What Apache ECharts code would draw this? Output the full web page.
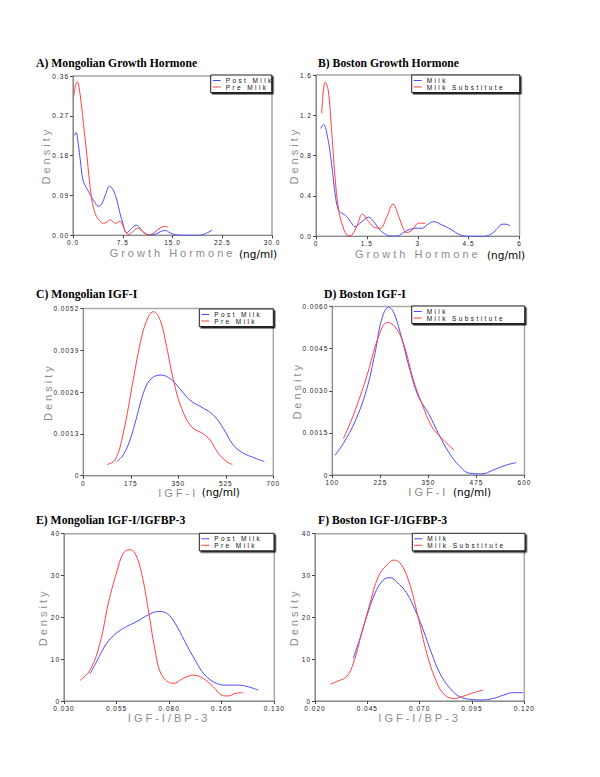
<!DOCTYPE html>
<html><head><meta charset="utf-8">
<script src="https://cdn.jsdelivr.net/npm/echarts@6/dist/echarts.min.js"></script>
<style>html,body{margin:0;padding:0;background:#fff}#c{width:600px;height:777px}</style>
</head><body><div id="c"></div>
<script>
// ---------------- DATA ----------------
const titles = ['A) Mongolian Growth Hormone','B) Boston Growth Hormone','C) Mongolian IGF-I','D) Boston IGF-I','E) Mongolian IGF-I/IGFBP-3','F) Boston IGF-I/IGFBP-3'];
const xNames = ['Growth Hormone','Growth Hormone','IGF-I','IGF-I','IGF-I/BP-3','IGF-I/BP-3'];
const units = ['(ng/ml)','(ng/ml)','(ng/ml)','(ng/ml)','',''];
const yName = 'Density';
const mongolNames = ['Post Milk','Pre Milk'];
const bostonNames = ['Milk','Milk Substitute'];

const ticksA_x = ['0.0','7.5','15.0','22.5','30.0'];
const ticksA_y = ['0.00','0.09','0.18','0.27','0.36'];
const ticksB_x = ['0','1.5','3','4.5','6'];
const ticksB_y = ['0.0','0.4','0.8','1.2','1.6'];
const ticksC_x = ['0','175','350','525','700'];
const ticksC_y = ['0','0.0013','0.0026','0.0039','0.0052'];
const ticksD_x = ['100','225','350','475','600'];
const ticksD_y = ['0','0.0015','0.0030','0.0045','0.0060'];
const ticksE_x = ['0.030','0.055','0.080','0.105','0.130'];
const ticksE_y = ['0','10','20','30','40'];
const ticksF_x = ['0.020','0.045','0.070','0.095','0.120'];
const ticksF_y = ['0','10','20','30','40'];

const ghMongolPost = [[0.2,0.226],[0.45,0.232],[0.8,0.205],[1.1,0.17],[1.5,0.125],[2.0,0.108],[2.6,0.092],[3.3,0.074],[3.8,0.066],[4.3,0.07],[4.9,0.092],[5.5,0.111],[6.0,0.104],[6.5,0.085],[7.0,0.055],[7.5,0.028],[8.1,0.006],[8.8,0.015],[9.5,0.023],[10.0,0.018],[10.6,0.007],[11.5,0.001],[12.5,0.003],[13.3,0.009],[13.9,0.011],[14.6,0.006],[15.5,0.001],[17,0],[19,0],[20,0.004],[21.0,0.012]];
const ghMongolPre = [[0.1,0.313],[0.4,0.34],[0.65,0.347],[0.9,0.335],[1.3,0.29],[1.7,0.235],[2.1,0.18],[2.5,0.12],[2.9,0.075],[3.4,0.047],[4.0,0.033],[4.6,0.027],[5.1,0.03],[5.6,0.035],[6.0,0.031],[6.4,0.027],[6.8,0.03],[7.1,0.032],[7.5,0.022],[8.0,0.006],[8.4,0.002],[9.0,0.008],[9.75,0.016],[10.4,0.01],[11.0,0.003],[11.5,0.001],[12.2,0.006],[12.8,0.013],[13.5,0.019],[13.9,0.02],[14.3,0.018]];
const ghBostonMilk = [[0.14,1.07],[0.22,1.11],[0.32,1.02],[0.46,0.72],[0.56,0.43],[0.66,0.26],[0.76,0.23],[0.91,0.195],[1.05,0.13],[1.15,0.095],[1.35,0.145],[1.55,0.19],[1.7,0.145],[1.89,0.062],[2.05,0.02],[2.19,0.003],[2.39,0.003],[2.55,0.03],[2.68,0.056],[2.93,0.08],[3.13,0.08],[3.3,0.12],[3.47,0.145],[3.67,0.12],[3.96,0.072],[4.26,0.013],[4.55,0],[4.95,0],[5.2,0.03],[5.35,0.08],[5.49,0.12],[5.6,0.12],[5.72,0.105]];
const ghBostonSub = [[0.17,1.22],[0.27,1.53],[0.36,1.45],[0.46,1.05],[0.56,0.59],[0.66,0.28],[0.76,0.13],[0.91,0.013],[1.0,0.005],[1.06,0.013],[1.2,0.095],[1.37,0.22],[1.55,0.145],[1.75,0.085],[1.89,0.08],[2.09,0.195],[2.27,0.32],[2.44,0.195],[2.58,0.07],[2.66,0.036],[2.83,0.06],[3.03,0.13],[3.23,0.13]];
const igfMongolPost = [[123,0.00044],[147,0.00064],[172,0.00111],[197,0.00183],[221,0.00256],[246,0.00298],[283,0.00313],[313,0.00306],[344,0.00282],[393,0.00235],[442,0.0021],[479,0.00189],[516,0.00147],[553,0.00095],[590,0.0007],[626,0.00057],[667,0.00044]];
const igfMongolPre = [[88,0.00035],[117,0.00049],[147,0.00132],[184,0.00298],[215,0.00432],[240,0.00495],[258,0.0051],[283,0.00484],[307,0.00401],[332,0.00298],[362,0.0021],[399,0.00152],[442,0.0013],[467,0.00111],[497,0.0007],[528,0.00044],[549,0.00035]];
const igfBostonMilk = [[107,0.0007],[129,0.00113],[159,0.0019],[189,0.00303],[211,0.00433],[228,0.00552],[246,0.00597],[259,0.00581],[276,0.0051],[302,0.00374],[324,0.00279],[350,0.0022],[376,0.00148],[402,0.00083],[432,0.0003],[458,0.00006],[489,0.00004],[519,0.00018],[554,0.00036],[578,0.00044]];
const igfBostonSub = [[129,0.0013],[155,0.00214],[189,0.00349],[220,0.00491],[243,0.00543],[263,0.00528],[285,0.00469],[311,0.00338],[333,0.00255],[359,0.00172],[389,0.00125],[417,0.00089]];
const ratioMongolPost = [[0.0424,6.5],[0.0455,9.4],[0.0503,13.8],[0.0551,16.3],[0.0598,17.8],[0.0646,19.0],[0.0701,20.6],[0.0748,21.4],[0.0788,21.0],[0.0828,18.6],[0.0875,14.2],[0.0923,9.8],[0.097,6.2],[0.1026,4.2],[0.1074,3.8],[0.1129,3.8],[0.1176,3.4],[0.1224,2.6]];
const ratioMongolPre = [[0.0376,4.9],[0.0424,7.4],[0.0471,13.8],[0.0511,23.4],[0.0551,30.9],[0.0582,35.3],[0.0611,36.2],[0.0638,35.3],[0.0669,30.5],[0.0701,21.8],[0.0733,12.2],[0.0765,6.2],[0.082,4.2],[0.0867,5.4],[0.0915,6.2],[0.0962,5.4],[0.101,3.4],[0.105,1.4],[0.1081,1.2],[0.1113,1.8],[0.1153,2.0]];
const ratioBostonMilk = [[0.0383,10.2],[0.0415,15.0],[0.0447,20.2],[0.0487,25.8],[0.0526,28.9],[0.0558,29.5],[0.059,28.5],[0.0638,25.8],[0.0678,21.8],[0.0717,17.0],[0.0757,11.4],[0.0797,6.6],[0.0845,3.0],[0.0893,1.0],[0.0941,0.4],[0.0996,0.25],[0.1052,0.6],[0.11,1.4],[0.1147,2.0],[0.1195,2.0]];
const ratioBostonSub = [[0.0272,4.0],[0.0311,4.8],[0.0351,5.8],[0.0383,9.0],[0.0423,16.2],[0.0463,23.4],[0.0502,29.7],[0.0543,32.5],[0.0579,33.7],[0.0614,32.5],[0.0654,27.7],[0.0694,19.8],[0.0734,11.4],[0.0774,5.4],[0.0813,1.8],[0.0861,0.6],[0.0901,1.0],[0.0957,2.0],[0.1004,2.6]];

// ---------------- LAYOUT / STYLE ----------------
const BLUE = '#4b4bff', RED = '#ff4040';
const layout = [
  {l:73,   t:76,    w:199,   h:159.3, tx:36,  ty:57,  legL:210.7, legT:75,    legW:44,   yGap:22, xGap:12, ux:239,   uy:254},
  {l:316,  t:75,    w:203.5, h:161.3, tx:318, ty:57,  legL:411.7, legT:75,    legW:91,   yGap:17, xGap:11, ux:487,   uy:254.5},
  {l:83.3, t:308.5, w:190,   h:167.2, tx:36,  ty:288, legL:199.3, legT:309,   legW:57,   yGap:30, xGap:10, ux:201.7, uy:491.5},
  {l:332.3,t:306.5, w:192.2, h:168.5, tx:324, ty:288, legL:411.7, legT:306,   legW:96,   yGap:30, xGap:9,  ux:453,   uy:491.5},
  {l:64,   t:533.7, w:210.3, h:167.3, tx:36,  ty:514, legL:199.3, legT:533.3, legW:57.7, yGap:11, xGap:11, ux:0, uy:0},
  {l:315,  t:533.7, w:209.3, h:167.3, tx:318, ty:514, legL:412.3, legT:533.3, legW:95.7, yGap:12, xGap:11, ux:0, uy:0}
];
const panels = [
  {xt:ticksA_x, yt:ticksA_y, names:mongolNames, data:[ghMongolPost, ghMongolPre]},
  {xt:ticksB_x, yt:ticksB_y, names:bostonNames, data:[ghBostonMilk, ghBostonSub]},
  {xt:ticksC_x, yt:ticksC_y, names:mongolNames, data:[igfMongolPost, igfMongolPre]},
  {xt:ticksD_x, yt:ticksD_y, names:bostonNames, data:[igfBostonMilk, igfBostonSub]},
  {xt:ticksE_x, yt:ticksE_y, names:mongolNames, data:[ratioMongolPost, ratioMongolPre]},
  {xt:ticksF_x, yt:ticksF_y, names:bostonNames, data:[ratioBostonMilk, ratioBostonSub]}
];

const SANS = 'Liberation Sans';
function fmt(labels) {
  const vals = labels.map(Number);
  return v => { let bi = 0, bd = Infinity; vals.forEach((t, i) => { const d = Math.abs(t - v); if (d < bd) { bd = d; bi = i; } }); return labels[bi]; };
}
const tickLabelStyle = (labels, margin) => ({customValues: labels.map(Number), formatter: fmt(labels), fontFamily: SANS, fontSize: 6.5, color: '#1a1a1a', margin});
const tickStyle = labels => ({show: true, customValues: labels.map(Number), length: 3, lineStyle: {color: '#444', width: 1}});

const option = {animation: false, title: [], grid: [], xAxis: [], yAxis: [], legend: [], series: [], graphic: []};
panels.forEach((p, i) => {
  const L = layout[i];
  option.title.push({text: titles[i], left: L.tx, top: L.ty, padding: 0,
    textStyle: {fontFamily: 'Liberation Serif', fontWeight: 'bold', fontSize: 11.7, color: '#000'}});
  option.grid.push({left: L.l, top: L.t, width: L.w, height: L.h, show: true, borderColor: '#a8a8a8', borderWidth: 1.5, outerBoundsMode: 'none'});
  const xv = p.xt.map(Number), yv = p.yt.map(Number);
  option.xAxis.push({gridIndex: i, type: 'value', min: xv[0], max: xv[xv.length - 1],
    name: xNames[i], nameLocation: 'middle', nameGap: L.xGap,
    nameTextStyle: {fontFamily: SANS, fontSize: 11, color: '#8c8c8c'},
    axisLine: {show: true, onZero: false, lineStyle: {color: '#8a8a8a', width: 1}},
    axisTick: tickStyle(p.xt), axisLabel: tickLabelStyle(p.xt, 4), splitLine: {show: false}});
  option.yAxis.push({gridIndex: i, type: 'value', min: yv[0], max: yv[yv.length - 1],
    name: yName, nameLocation: 'middle', nameGap: L.yGap,
    nameTextStyle: {fontFamily: SANS, fontSize: 11, color: '#8c8c8c'},
    axisLine: {show: true, onZero: false, lineStyle: {color: '#8a8a8a', width: 1}},
    axisTick: tickStyle(p.yt), axisLabel: tickLabelStyle(p.yt, 4), splitLine: {show: false}});
  option.legend.push({left: L.legL, top: L.legT, orient: 'vertical', itemGap: -0.5, itemWidth: 8, itemHeight: 1,
    icon: 'rect', padding: [2, 2, 2, 2], borderColor: '#222', borderWidth: 1, backgroundColor: '#fff',
    shadowColor: 'rgba(0,0,0,0.85)', shadowOffsetX: 1.5, shadowOffsetY: 1.5, shadowBlur: 0,
    selectedMode: false, data: p.names,
    textStyle: {fontFamily: SANS, fontSize: 6.5, lineHeight: 5.5, color: '#111', width: L.legW}});
  [BLUE, RED].forEach((c, k) => {
    option.series.push({type: 'line', name: p.names[k], xAxisIndex: i, yAxisIndex: i, data: p.data[k],
      smooth: 0.4, symbol: 'none', silent: true, lineStyle: {color: c, width: 1}, itemStyle: {color: c}});
  });
  if (units[i]) {
    option.graphic.push({type: 'text', x: L.ux, y: L.uy, silent: true,
      style: {text: units[i], font: '10.5px "DejaVu Sans"', fill: '#000', verticalAlign: 'middle', align: 'left'}});
  }
});

const dom = document.getElementById('c');
const chart = echarts.init(dom, null, {renderer: 'svg'});
chart.setOption(option);

// letter-spaced look of the original SAS fonts
const nameSet = new Set([yName, ...xNames]);
const legendSet = new Set([...mongolNames, ...bostonNames]);
const tickSet = new Set([].concat(...panels.map(p => p.xt.concat(p.yt))));
function spaceText() {
  dom.querySelectorAll('svg text').forEach(t => {
    const s = t.textContent;
    let ls = null;
    if (nameSet.has(s)) ls = '3px';
    else if (legendSet.has(s)) ls = '2.4px';
    else if (tickSet.has(s)) ls = '1px';
    if (ls) t.style.letterSpacing = ls;
  });
}
chart.on('finished', spaceText);
spaceText();
requestAnimationFrame(spaceText);
setTimeout(spaceText, 30);
setTimeout(spaceText, 200);
</script></body></html>
